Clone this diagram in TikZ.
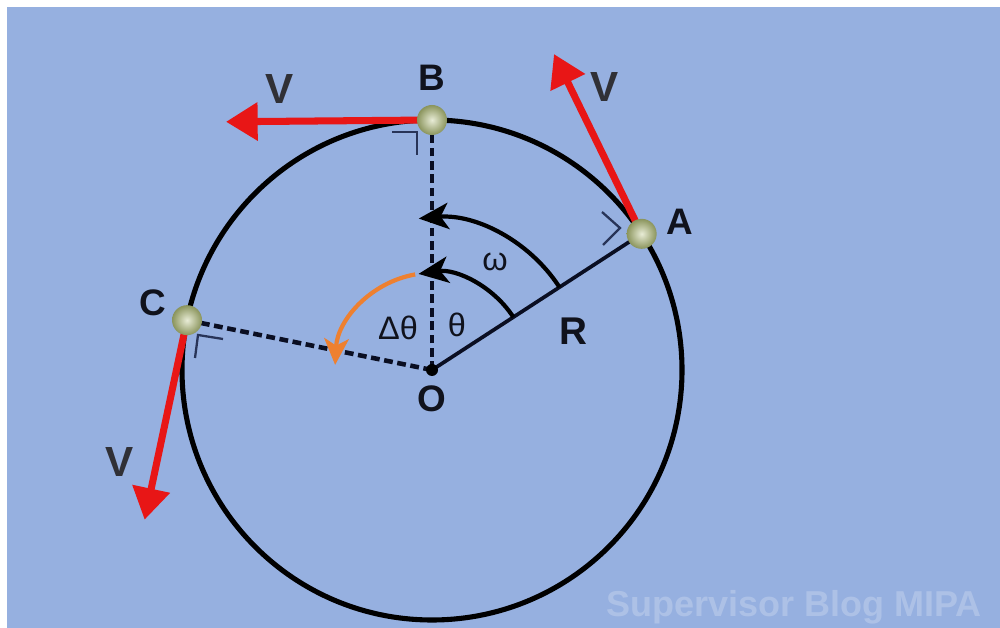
\documentclass[tikz,border=0pt]{standalone}
\usepackage{fontspec}
\setmainfont{Liberation Sans}
\usetikzlibrary{arrows.meta,calc}
\definecolor{bgblue}{RGB}{150,176,224}
\definecolor{vred}{RGB}{232,22,22}
\definecolor{dorange}{RGB}{238,128,48}
\definecolor{navy}{RGB}{10,14,34}
\definecolor{markc}{RGB}{40,52,88}
\definecolor{ballin}{RGB}{232,236,214}
\definecolor{ballout}{RGB}{138,148,92}
\definecolor{vgrey}{RGB}{48,48,54}
\definecolor{ltext}{RGB}{16,18,28}
\begin{document}
\begin{tikzpicture}[x=0.02cm,y=0.02cm,
  rim/.style={line width=2.9pt,black},
  dashline/.style={line width=2.6pt,navy,dash pattern=on 5pt off 2.6pt},
  radline/.style={line width=2.1pt,navy},
  arcline/.style={line width=2.4pt,black,-{Stealth[length=17pt,width=15pt,inset=4.5pt]}},
  orangearc/.style={line width=2.4pt,dorange,-{Stealth[length=15pt,width=14pt,inset=4pt]}},
  vel/.style={line width=4pt,vred,-{Triangle[length=18pt,width=21pt]}},
  rmark/.style={line width=1.3pt,markc},
  ball/.style={circle,minimum size=0.6cm,inner sep=0pt,shading=radial,inner color=ballin,outer color=ballout},
  ptlabel/.style={font=\bfseries\fontsize{21}{25}\selectfont,text=ltext},
  vlabel/.style={font=\bfseries\fontsize{24}{28}\selectfont,text=vgrey},
  glabel/.style={font=\fontsize{18.5}{22}\selectfont,text=ltext}]
\useasboundingbox (0,0) rectangle (1000,628);
\clip (0,0) rectangle (1000,628);
\fill[white] (0,0) rectangle (1000,628);
\fill[bgblue] (7,0) rectangle (1000,621);

\node[anchor=base west,inner sep=0pt,text=white,opacity=0.22,font=\bfseries\fontsize{20.5}{24}\selectfont] (wm) at (606,11) {Supervisor Blog MIPA};

\coordinate (O) at (432,258);
\draw[rim] (O) circle[radius=250];
\coordinate (pA) at ($(O)+(33:250)$);
\coordinate (pB) at ($(O)+(90:250)$);
\coordinate (pC) at ($(O)+(168.5:250)$);

\draw[dashline] (O) -- (pB);
\draw[dashline] (O) -- (pC);
\draw[radline] (O) -- (pA);

\draw[arcline] ($(O)+(33:97)$) arc[start angle=33,end angle=98,radius=97];
\draw[arcline] ($(O)+(33:152)$) arc[start angle=33,end angle=95,radius=152];
\draw[orangearc] ($(O)+(100:97)$) arc[start angle=100,end angle=177,radius=97];

\fill[black] (O) circle[radius=6];

\coordinate (vA) at ($(pA)+(116:200)$);
\coordinate (vB) at ($(pB)+(180.5:206)$);
\coordinate (vC) at ($(pC)+(258:204)$);
\draw[vel] (pA) -- (vA);
\draw[vel] (pB) -- (vB);
\draw[vel] (pC) -- (vC);

\draw[rmark] (392,496) -- (417,496) -- (417,473);
\draw[rmark] (602,416) -- (620,400) -- (603,383);
\draw[rmark] (223,289) -- (198,293) -- (195,270);

\node[ball] (A) at (pA) {};
\node[ball] (B) at (pB) {};
\node[ball] (C) at (pC) {};

\node[ptlabel] (lA) at (680,406) {A};
\node[ptlabel] (lB) at (432,550) {B};
\node[ptlabel] (lC) at (153,325) {C};
\node[ptlabel] (lO) at (432,229) {O};
\node[ptlabel,font=\bfseries\fontsize{22}{26}\selectfont] (lR) at (573,297) {R};

\node[vlabel] (vlA) at (605,541) {V};
\node[vlabel] (vlB) at (280,539) {V};
\node[vlabel] (vlC) at (120,166) {V};

\node[glabel] (lw) at (495,366) {ω};
\node[glabel] (lt) at (457,303) {θ};
\node[glabel] (ldt) at (398,300) {Δθ};
\end{tikzpicture}
\end{document}
